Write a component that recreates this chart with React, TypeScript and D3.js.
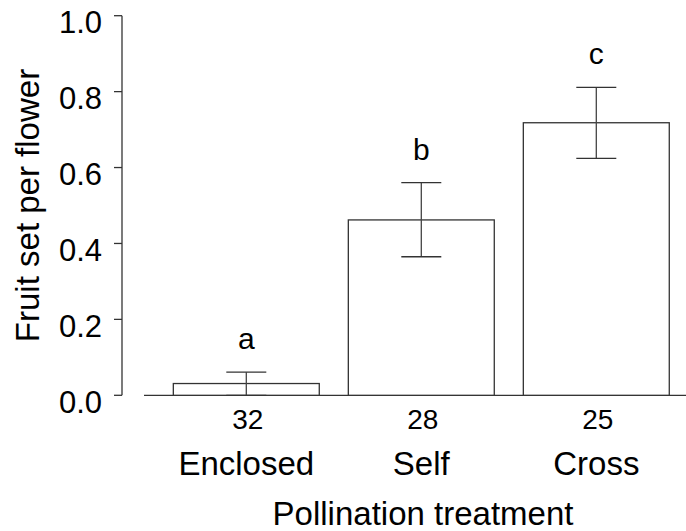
import React from "react";
import * as d3 from "d3";

const categories = ["Enclosed", "Self", "Cross"];
const means = [0.031, 0.462, 0.718];
const errLow = [0.0, 0.365, 0.624];
const errHigh = [0.061, 0.56, 0.811];
const counts = ["32", "28", "25"];
const letters = ["a", "b", "c"];
const yTicks = [0, 0.2, 0.4, 0.6, 0.8, 1.0];

const W = 686;
const H = 531;
const FONT = "'Liberation Sans', Arial, Helvetica, sans-serif";

export default function App() {
  const y = d3.scaleLinear().domain([0, 1]).range([395.3, 15.7]);
  const x = d3
    .scaleBand<string>()
    .domain(categories)
    .range([158.8, 683.8])
    .paddingInner(0.166)
    .paddingOuter(0.083);
  const bw = x.bandwidth();
  const capW = 40;
  const axisX = 122;
  const stroke = "#333";

  return (
    <svg
      width={W}
      height={H}
      style={{ position: "absolute", left: 0, top: 0, background: "#fff" }}
      fontFamily={FONT}
    >
      <rect x={0} y={0} width={W} height={H} fill="#fff" />
      {/* Y axis */}
      <line x1={axisX} x2={axisX} y1={y(0)} y2={y(1)} stroke={stroke} strokeWidth={1.3} />
      {yTicks.map((t) => (
        <g key={t}>
          <line x1={axisX - 8} x2={axisX} y1={y(t)} y2={y(t)} stroke={stroke} strokeWidth={1.3} />
          <text x={102} y={y(t) + 17.5} textAnchor="end" fontSize={31} fill="#000">
            {d3.format(".1f")(t)}
          </text>
        </g>
      ))}
      {/* X baseline */}
      <line x1={144} x2={W} y1={y(0)} y2={y(0)} stroke={stroke} strokeWidth={1.3} />
      {categories.map((c, i) => {
        const x0 = x(c)!;
        const cx = x0 + bw / 2;
        return (
          <g key={c}>
            <rect
              x={x0}
              y={y(means[i])}
              width={bw}
              height={y(0) - y(means[i])}
              fill="#fff"
              stroke={stroke}
              strokeWidth={1.3}
            />
            <line x1={cx} x2={cx} y1={y(errLow[i])} y2={y(errHigh[i])} stroke="#444" strokeWidth={1.3} />
            <line x1={cx - capW / 2} x2={cx + capW / 2} y1={y(errLow[i])} y2={y(errLow[i])} stroke={stroke} strokeWidth={1.3} />
            <line x1={cx - capW / 2} x2={cx + capW / 2} y1={y(errHigh[i])} y2={y(errHigh[i])} stroke={stroke} strokeWidth={1.3} />
            <text x={cx} y={y(errHigh[i]) - 23} textAnchor="middle" fontSize={30} fill="#000">
              {letters[i]}
            </text>
            <text x={cx + 1.5} y={429} textAnchor="middle" fontSize={28} fill="#000">
              {counts[i]}
            </text>
            <text x={cx} y={475} textAnchor="middle" fontSize={33} fill="#000">
              {c}
            </text>
          </g>
        );
      })}
      <text x={423} y={525} textAnchor="middle" fontSize={33} fill="#000">
        Pollination treatment
      </text>
      <text
        transform={`translate(39, ${(y(0) + y(1)) / 2}) rotate(-90)`}
        textAnchor="middle"
        fontSize={33}
        fill="#000"
      >
        Fruit set per flower
      </text>
    </svg>
  );
}
